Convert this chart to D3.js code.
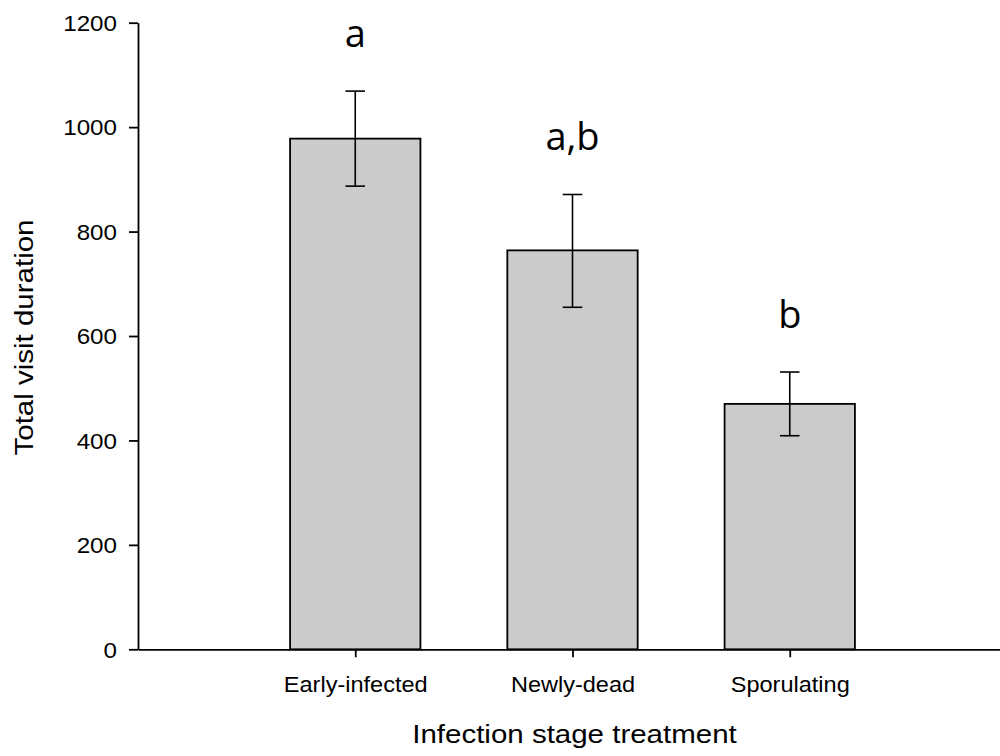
<!DOCTYPE html>
<html>
<head>
<meta charset="utf-8">
<script src="https://cdn.jsdelivr.net/npm/d3@7"></script>
<style>
  html, body { margin: 0; padding: 0; background: #fff; }
  svg { display: block; }
  text { font-family: "Liberation Sans", Arial, sans-serif; fill: #000; }
</style>
</head>
<body>
<svg id="chart" width="1000" height="756"></svg>
<script>
// Mean total visit duration per infection stage, with error bars
const categories = ["Early-infected", "Newly-dead", "Sporulating"];
const means      = [978, 764, 470];
const errUpper   = [1069, 871, 531];
const errLower   = [887, 655, 409];
const groupLetters = ["a", "a,b", "b"];
const yTicks = [0, 200, 400, 600, 800, 1000, 1200];

const svg = d3.select("#chart");

const y = d3.scaleLinear().domain([0, 1200]).range([649.3, 22.7]);
// categories sit at positions 1..3 on a 0..4 axis
const x = d3.scaleLinear().domain([0, 4]).range([138, 1007]);
const barHalf = 0.3;

// bars
svg.append("g").selectAll("rect")
  .data(categories)
  .join("rect")
  .attr("x", (d, i) => x(i + 1 - barHalf))
  .attr("width", (d, i) => x(i + 1 + barHalf) - x(i + 1 - barHalf))
  .attr("y", (d, i) => y(means[i]))
  .attr("height", (d, i) => y(0) - y(means[i]))
  .attr("fill", "#cbcbcb")
  .attr("stroke", "#000")
  .attr("stroke-width", 1.8);

// error bars
const eb = svg.append("g").attr("stroke", "#000").attr("stroke-width", 1.6).attr("fill", "none");
const capHalf = 0.045;
categories.forEach((c, i) => {
  const cx = x(i + 1);
  eb.append("line").attr("x1", cx).attr("x2", cx).attr("y1", y(errUpper[i])).attr("y2", y(errLower[i]));
  eb.append("line").attr("x1", x(i + 1 - capHalf)).attr("x2", x(i + 1 + capHalf))
    .attr("y1", y(errUpper[i])).attr("y2", y(errUpper[i]));
  eb.append("line").attr("x1", x(i + 1 - capHalf)).attr("x2", x(i + 1 + capHalf))
    .attr("y1", y(errLower[i])).attr("y2", y(errLower[i]));
});

// significance group letters above the bars
svg.append("g").selectAll("text")
  .data(groupLetters)
  .join("text")
  .attr("x", (d, i) => x(i + 1))
  .attr("y", (d, i) => y(errUpper[i]) - 44)
  .attr("text-anchor", "middle")
  .style("font-family", "'Open Sans', Carlito, sans-serif")
  .style("font-size", "38px")
  .text(d => d);

// y axis
const yAxis = svg.append("g")
  .attr("transform", `translate(${x(0)},0)`)
  .call(d3.axisLeft(y).tickValues(yTicks).tickFormat(d3.format("d"))
    .tickSize(9).tickPadding(12).tickSizeOuter(0));
yAxis.select(".domain").attr("stroke-width", 1.8);
yAxis.selectAll(".tick line").attr("stroke-width", 1.8);
yAxis.selectAll(".tick text")
  .style("font-size", "22px")
  .attr("font-family", null)
  .attr("dy", "0.35em")
  .each(function () {
    const t = d3.select(this);
    const tx = +t.attr("x");
    t.attr("x", null).attr("transform", `translate(${tx},0) scale(1.1,1)`);
  });

// x axis
const xAxis = svg.append("g")
  .attr("transform", `translate(0,${y(0)})`)
  .call(d3.axisBottom(x).tickValues([1, 2, 3]).tickFormat(d => categories[d - 1])
    .tickSize(8).tickPadding(0).tickSizeOuter(0));
xAxis.select(".domain").attr("stroke-width", 1.8);
xAxis.selectAll(".tick line").attr("stroke-width", 1.8);
xAxis.selectAll(".tick text")
  .style("font-size", "22px")
  .attr("font-family", null)
  .attr("y", null).attr("dy", null)
  .attr("transform", "translate(0,43) scale(1.07,1)");

// axis titles
svg.append("text")
  .attr("transform", "translate(574.5,743) scale(1.18,1)")
  .attr("text-anchor", "middle")
  .style("font-size", "25px")
  .text("Infection stage treatment");

svg.append("text")
  .attr("transform", "translate(33,337.5) rotate(-90) scale(1.18,1)")
  .attr("text-anchor", "middle")
  .style("font-size", "25px")
  .text("Total visit duration");
</script>
</body>
</html>
